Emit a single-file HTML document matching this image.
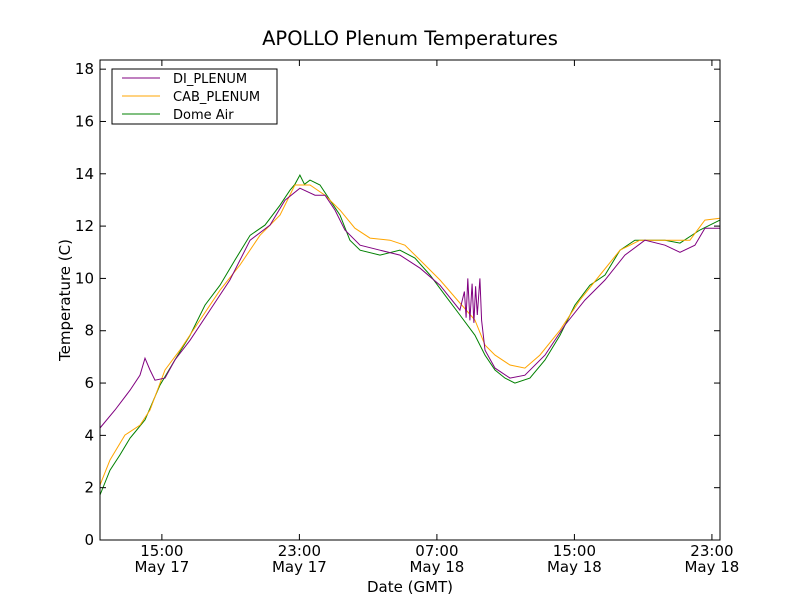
<!DOCTYPE html>
<html><head><meta charset="utf-8"><style>
body{margin:0;background:#fff;}
svg text{font-family:"DejaVu Sans","Liberation Sans",sans-serif;}
</style></head><body>
<svg id="chart" width="800" height="600" xmlns="http://www.w3.org/2000/svg">
<rect width="800" height="600" fill="#fff"/>
<text x="410" y="45" font-size="19.5" text-anchor="middle">APOLLO Plenum Temperatures</text>
<g id="marks"></g>
<rect x="100" y="60" width="620" height="480" fill="none" stroke="#000"/>
<g id="axes"></g>
<text x="410" y="592" font-size="15" text-anchor="middle">Date (GMT)</text>
<text transform="translate(70,300) rotate(-90)" font-size="15" text-anchor="middle">Temperature (C)</text>
<g>
<rect x="112" y="69" width="165" height="55" fill="#fff" stroke="#000"/>
<line x1="122" y1="78" x2="160" y2="78" stroke="#800080"/>
<text x="173" y="83" font-size="13">DI_PLENUM</text>
<line x1="122" y1="96" x2="160" y2="96" stroke="#ffa500"/>
<text x="173" y="101" font-size="13">CAB_PLENUM</text>
<line x1="122" y1="114" x2="160" y2="114" stroke="#008000"/>
<text x="173" y="119" font-size="13">Dome Air</text>
</g>
</svg>
<script>
const domeT=[11.4,11.98,12.56,13.15,13.44,14.02,14.89,15.76,16.64,17.51,18.38,19.25,20.13,21.0,21.87,22.45,22.74,23.03,23.3,23.62,24.2,24.78,25.36,25.94,26.53,27.69,28.85,29.72,30.6,31.47,32.34,33.21,33.8,34.38,34.96,35.54,36.41,37.29,38.16,39.03,39.9,40.78,41.65,42.52,43.4,44.27,45.14,46.3,46.88,47.47];
const domeV=[1.72,2.67,3.25,3.9,4.13,4.59,5.92,6.88,7.83,8.98,9.74,10.7,11.65,12.04,12.8,13.37,13.6,13.95,13.6,13.76,13.57,12.99,12.42,11.46,11.08,10.89,11.08,10.78,10.13,9.36,8.6,7.83,7.07,6.5,6.19,6.0,6.19,6.88,7.83,8.98,9.74,10.13,11.08,11.46,11.46,11.46,11.35,11.85,12.04,12.23];
const cabT=[11.4,11.98,12.85,13.73,14.31,15.18,16.05,17.22,18.38,19.54,20.71,21.87,22.74,23.62,24.49,25.36,26.23,27.11,28.27,29.14,30.02,31.18,32.34,33.21,33.8,34.38,35.25,36.12,36.99,38.16,39.32,40.49,41.65,42.81,43.98,45.72,46.59,47.47];
const cabV=[2.1,3.06,4.01,4.39,4.97,6.5,7.26,8.41,9.55,10.51,11.65,12.42,13.57,13.57,13.18,12.61,11.92,11.54,11.46,11.27,10.7,9.94,9.06,8.41,7.45,7.07,6.69,6.57,7.07,8.02,9.17,10.13,11.08,11.46,11.46,11.46,12.23,12.3];
const diT=[11.4,12.27,13.15,13.73,14.02,14.31,14.6,15.18,15.76,16.64,17.8,18.96,20.13,21.29,22.16,23.03,23.91,24.49,25.07,25.65,26.53,27.69,28.85,30.02,31.18,32.34,32.6,32.7,32.8,32.92,33.05,33.15,33.25,33.35,33.5,33.6,33.8,34.38,35.25,36.12,37.29,38.45,39.61,40.78,41.94,43.1,44.27,45.14,46.01,46.59,47.47];
const diV=[4.28,4.97,5.73,6.3,6.95,6.5,6.11,6.19,6.88,7.64,8.79,9.94,11.46,12.04,12.99,13.45,13.18,13.18,12.61,11.85,11.27,11.08,10.89,10.39,9.74,8.79,9.5,8.5,10.0,8.4,9.8,8.3,9.7,8.6,10.0,8.4,7.26,6.57,6.19,6.3,7.07,8.22,9.17,9.94,10.89,11.46,11.27,11.0,11.27,11.92,11.92];
const yTicks=[0,2,4,6,8,10,12,14,16,18];
const xTickHours=[15,23,31,39,47];
const xTickTop=["15:00","23:00","07:00","15:00","23:00"];
const xTickBottom=["May 17","May 17","May 18","May 18","May 18"];
const X0=100,X1=720,Y0=540,Y1=60,T0=11.4,T1=47.47,V0=0,V1=18.35;
function sx(t){return X0+(t-T0)/(T1-T0)*(X1-X0);}
function sy(v){return Y0-(v-V0)/(V1-V0)*(Y0-Y1);}
const NS="http://www.w3.org/2000/svg";
const marks=document.getElementById('marks'),axes=document.getElementById('axes');
function line(ts,vs,color,name){
  const p=document.createElementNS(NS,'path');
  p.setAttribute('d',ts.map((t,i)=>(i?'L':'M')+sx(t).toFixed(1)+','+sy(vs[i]).toFixed(1)).join(''));
  p.setAttribute('fill','none');p.setAttribute('stroke',color);p.setAttribute('stroke-width','1');
  
  
  marks.appendChild(p);
}
line(domeT,domeV,'#008000','dome-air-line');
line(cabT,cabV,'#ffa500','cab-plenum-line');
line(diT,diV,'#800080','di-plenum-line');
yTicks.forEach(v=>{
  const y=sy(v);
  const g=document.createElementNS(NS,'g');
  
  
  g.innerHTML=`<line x1="${X0}" x2="${X0+6}" y1="${y}" y2="${y}" stroke="#000"/><line x1="${X1-6}" x2="${X1}" y1="${y}" y2="${y}" stroke="#000"/><text x="${X0-6}" y="${y+5}" font-size="15" text-anchor="end">${v}</text>`;
  axes.appendChild(g);
});
xTickHours.forEach((h,i)=>{
  const x=sx(h);
  const g=document.createElementNS(NS,'g');
  
  
  g.innerHTML=`<line x1="${x}" x2="${x}" y1="${Y0}" y2="${Y0-6}" stroke="#000"/><line x1="${x}" x2="${x}" y1="${Y1}" y2="${Y1+6}" stroke="#000"/><text x="${x}" y="556" font-size="15" text-anchor="middle">${xTickTop[i]}</text><text x="${x}" y="572" font-size="15" text-anchor="middle">${xTickBottom[i]}</text>`;
  axes.appendChild(g);
});
</script>
</body></html>
